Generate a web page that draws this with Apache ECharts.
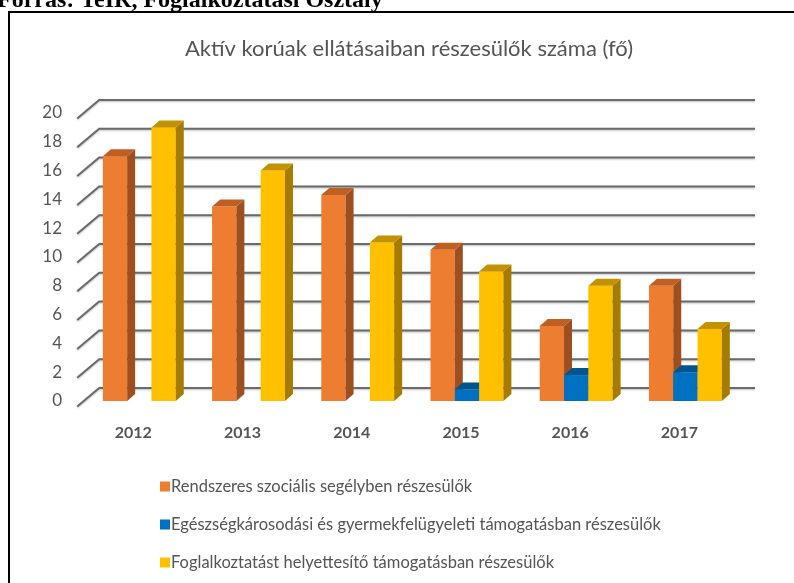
<!DOCTYPE html>
<html>
<head>
<meta charset="utf-8">
<script src="https://cdn.jsdelivr.net/npm/echarts@6/dist/echarts.min.js"></script>
<style>html,body{margin:0;padding:0;background:#fff}#c{width:794px;height:583px}</style>
</head>
<body>
<div id="c"></div>
<script>
const categories = ['2012', '2013', '2014', '2015', '2016', '2017'];
const seriesNames = [
  'Rendszeres szociális segélyben részesülők',
  'Egészségkárosodási és gyermekfelügyeleti támogatásban részesülők',
  'Foglalkoztatást helyettesítő támogatásban részesülők'
];
const rendszeres = [17, 13.5, 14.3, 10.5, 5.2, 8];
const egeszseg = [0, 0, 0, 0.8, 1.8, 2];
const foglalkoztatas = [19, 16, 11, 9, 8, 5];
const yTicks = [0, 2, 4, 6, 8, 10, 12, 14, 16, 18, 20];
const titleText = 'Aktív korúak ellátásaiban részesülők száma (fő)';
const sourceText = 'Forrás: TeIR, Foglalkoztatási Osztály';

const palettes = [
  { front: '#ED7D31', side: '#9E4F1F', top: '#C05F22' },
  { front: '#0070C0', side: '#004C85', top: '#00548F' },
  { front: '#FFC000', side: '#A67C00', top: '#C49200' }
];
const DX = 8, DY = 7;
const FONT = 'Lato, "Open Sans", sans-serif';
const TEXT = '#555555';

function barRenderer(s) {
  return function (params, api) {
    const idx = api.value(0), v = api.value(1);
    if (!v) return null;
    const base = api.coord([idx, 0]);
    const top = api.coord([idx, v]);
    const band = api.size([1, 0])[0];
    const w = band * 0.2225;
    const x0 = base[0] - 1.5 * w + s * w;
    const p = palettes[s];
    return {
      type: 'group',
      children: [
        { type: 'rect', shape: { x: x0, y: top[1], width: w, height: base[1] - top[1] }, style: { fill: p.front } },
        { type: 'polygon', shape: { points: [[x0 + w, top[1]], [x0 + w + DX, top[1] - DY], [x0 + w + DX, base[1] - DY], [x0 + w, base[1]]] }, style: { fill: p.side } },
        { type: 'polygon', shape: { points: [[x0, top[1]], [x0 + DX, top[1] - DY], [x0 + w + DX, top[1] - DY], [x0 + w, top[1]]] }, style: { fill: p.top } }
      ]
    };
  };
}

const chart = echarts.init(document.getElementById('c'), null, { renderer: 'canvas' });
const seriesData = [rendszeres, egeszseg, foglalkoztatas];

chart.setOption({
  animation: false,
  backgroundColor: '#fff',
  title: {
    text: titleText,
    left: 404, top: 33, textAlign: 'center',
    textStyle: { fontFamily: FONT, fontSize: 22, fontWeight: 'normal', color: TEXT }
  },
  graphic: [
    { type: 'text', left: -3, top: -11, style: { text: sourceText, font: 'bold 24px "Liberation Serif", "Times New Roman", serif', fill: '#000' } },
    { type: 'line', shape: { x1: 9, y1: 12, x2: 794, y2: 12 }, style: { stroke: '#000', lineWidth: 2 } },
    { type: 'line', shape: { x1: 9, y1: 11, x2: 9, y2: 583 }, style: { stroke: '#000', lineWidth: 2 } }
  ],
  legend: {
    orient: 'vertical', left: 155, top: 473,
    itemWidth: 10, itemHeight: 10, itemGap: 21, icon: 'rect',
    data: seriesNames,
    textStyle: { fontFamily: FONT, fontSize: 16.5, color: TEXT, lineHeight: 16, padding: [0, 0, 0, -4] }
  },
  grid: { left: 84.7, right: 54, top: 113, bottom: 182, containLabel: false },
  xAxis: {
    type: 'category', data: categories,
    axisLine: { show: false }, axisTick: { show: false }, splitLine: { show: false },
    axisLabel: { margin: 24, color: TEXT, fontFamily: FONT, fontSize: 16, fontWeight: 'bold', lineHeight: 16, padding: [0, 12, 0, 0] }
  },
  yAxis: {
    type: 'value', min: 0, max: 20, interval: 2,
    axisLine: { show: false }, axisTick: { show: false }, splitLine: { show: false },
    axisLabel: { margin: 22.7, color: TEXT, fontFamily: FONT, fontSize: 17, padding: [10, 0, 0, 0] }
  },
  series: [
    {
      type: 'custom', name: 'grid', silent: true,
      data: yTicks.map(v => [0, v]),
      encode: { x: 0, y: 1 },
      renderItem: function (params, api) {
        const cs = params.coordSys;
        const y = api.coord([0, api.value(1)])[1];
        return {
          type: 'polyline',
          shape: { points: [[cs.x - 7.5, y + 5.5], [cs.x + 14.5, y - 13], [cs.x + cs.width + 15, y - 13]] },
          style: { stroke: '#6a6a6a', lineWidth: 2, fill: null, shadowBlur: 2, shadowColor: 'rgba(0,0,0,0.25)', shadowOffsetY: 1 }
        };
      }
    }
  ].concat(seriesNames.map((name, s) => ({
    type: 'custom', name: name,
    itemStyle: { color: palettes[s].front },
    data: seriesData[s].map((v, i) => [i, v]),
    encode: { x: 0, y: 1 },
    renderItem: barRenderer(s)
  })))
});
</script>
</body>
</html>
